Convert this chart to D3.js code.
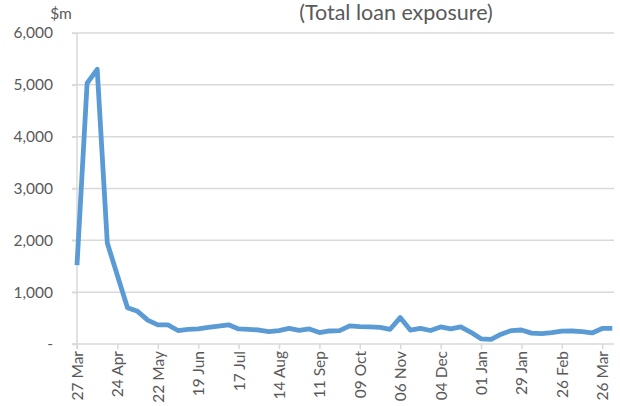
<!DOCTYPE html>
<html>
<head>
<meta charset="utf-8">
<script src="https://cdn.jsdelivr.net/npm/d3@7"></script>
<style>
  html, body { margin: 0; padding: 0; background: #fff; }
  svg { display: block; font-family: Lato, "Open Sans", sans-serif; }
</style>
</head>
<body>
<svg id="chart" width="620" height="406"></svg>
<script>
// Weekly observations starting Friday 27 March 2020
const startDate = "2020-03-27";
// Total loan exposure, $m
const exposure = [
  1520, 5030, 5300, 1950, 1320, 700, 630, 460, 370, 370,
  260, 284, 290, 320, 345, 370, 290, 284, 270, 240,
  257, 300, 264, 290, 220, 251, 257, 350, 335, 330,
  320, 284, 510, 270, 300, 260, 330, 290, 330, 226,
  100, 90, 190, 260, 270, 210, 200, 219, 250, 251,
  238, 213, 300, 300
];
// Axis tick labels (every fourth week)
const xTickLabels = [
  "27 Mar", "24 Apr", "22 May", "19 Jun", "17 Jul", "14 Aug", "11 Sep",
  "09 Oct", "06 Nov", "04 Dec", "01 Jan", "29 Jan", "26 Feb", "26 Mar"
];
const yTicks = [0, 1000, 2000, 3000, 4000, 5000, 6000];
const unitLabel = "$m";
const titleText = "(Total loan exposure)";

const t0 = new Date(startDate + "T00:00:00Z");
const dates = exposure.map((_, i) => d3.utcDay.offset(t0, 7 * i));
const tickDates = xTickLabels.map((_, i) => d3.utcDay.offset(t0, 28 * i));

const svg = d3.select("#chart");
const plotLeft = 77, plotRight = 612.3, plotTop = 33, plotBottom = 344;

const x = d3.scaleUtc().domain([dates[0], dates[dates.length - 1]]).range([plotLeft, plotRight]);
const y = d3.scaleLinear().domain([0, 6000]).range([plotBottom, plotTop]);

const grid = "#d9d9d9";
const textCol = "#595959";

// Horizontal gridlines with short outward ticks
svg.append("g")
  .selectAll("line")
  .data(yTicks.filter(d => d > 0))
  .join("line")
  .attr("x1", plotLeft - 5).attr("x2", 614)
  .attr("y1", d => y(d)).attr("y2", d => y(d))
  .attr("stroke", grid).attr("stroke-width", 1.5);

// Y axis
const yAxis = d3.axisLeft(y)
  .tickValues(yTicks)
  .tickSize(5)
  .tickPadding(19)
  .tickFormat(d => d === 0 ? "-" : d3.format(",")(d));
const gy = svg.append("g").attr("transform", `translate(${plotLeft},0)`).call(yAxis);
gy.select(".domain").attr("stroke", grid).attr("stroke-width", 1.5)
  .attr("d", `M0,${plotTop}V${plotBottom + 5}`);
gy.selectAll(".tick line").attr("stroke", grid).attr("stroke-width", 1.5);
gy.selectAll(".tick text")
  .attr("fill", textCol)
  .style("font-size", "15.5px")
  .style("font-family", "Lato, 'Open Sans', sans-serif");

// X axis
const xAxis = d3.axisBottom(x)
  .tickValues(tickDates)
  .tickSize(5)
  .tickFormat((d, i) => xTickLabels[i]);
const gx = svg.append("g").attr("transform", `translate(0,${plotBottom})`).call(xAxis);
gx.select(".domain").attr("stroke", grid).attr("stroke-width", 1.5)
  .attr("d", `M${plotLeft - 5},0H614`);
gx.selectAll(".tick line").attr("stroke", grid).attr("stroke-width", 1.5);
gx.selectAll(".tick text")
  .attr("fill", textCol)
  .style("font-size", "15.5px")
  .style("font-family", "Lato, 'Open Sans', sans-serif")
  .attr("text-anchor", "end")
  .attr("dy", "0.35em")
  .attr("transform", "translate(0,7) rotate(-90)")
  .attr("x", 0).attr("y", 0);

// Series line
const line = d3.line()
  .x((d, i) => x(dates[i]))
  .y(d => y(d));
svg.append("path")
  .datum(exposure)
  .attr("fill", "none")
  .attr("stroke", "#5b9bd5")
  .attr("stroke-width", 4.8)
  .attr("stroke-linejoin", "round")
  .attr("stroke-linecap", "butt")
  .attr("d", line);

// Unit and title
svg.append("text")
  .attr("x", 61).attr("y", 19)
  .attr("text-anchor", "middle")
  .attr("fill", textCol)
  .style("font-size", "15.5px")
  .text(unitLabel);
svg.append("text")
  .attr("x", 396).attr("y", 20)
  .attr("text-anchor", "middle")
  .attr("fill", textCol)
  .style("font-size", "21.5px")
  .text(titleText);
</script>
</body>
</html>
